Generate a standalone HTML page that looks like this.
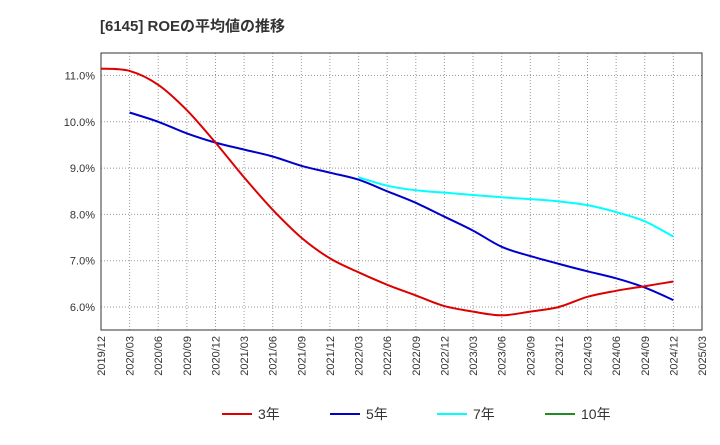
<!DOCTYPE html>
<html><head><meta charset="utf-8"><style>
body{margin:0;background:#fff;font-family:"Liberation Sans","Noto Sans CJK JP",sans-serif;}
</style></head><body>
<svg width="720" height="440" xmlns="http://www.w3.org/2000/svg">
<text x="100" y="31" font-size="15" font-weight="bold" fill="#333" font-family="Liberation Sans, Noto Sans CJK JP, sans-serif">[6145]  ROEの平均値の推移</text>
<g id="grid"></g>
<rect x="101" y="53" width="601" height="277" fill="none" stroke="#333" stroke-width="1"/>
<g id="axes"></g>
<g id="series"></g>
<g id="legend"></g>
</svg>
<script>
const xLabels=["2019/12","2020/03","2020/06","2020/09","2020/12","2021/03","2021/06","2021/09","2021/12","2022/03","2022/06","2022/09","2022/12","2023/03","2023/06","2023/09","2023/12","2024/03","2024/06","2024/09","2024/12","2025/03"];
const yTicks=[6,7,8,9,10,11];
const s3=[11.15,11.1,10.8,10.25,9.55,8.8,8.1,7.5,7.05,6.75,6.48,6.25,6.02,5.9,5.82,5.9,6.0,6.22,6.35,6.45,6.55];
const s5=[null,10.2,10.0,9.75,9.55,9.4,9.25,9.05,8.9,8.75,8.5,8.25,7.95,7.65,7.3,7.1,6.93,6.77,6.62,6.42,6.15];
const s7=[null,null,null,null,null,null,null,null,null,8.8,8.62,8.52,8.47,8.42,8.37,8.33,8.28,8.2,8.05,7.85,7.52];
const s10=[];
const NS="http://www.w3.org/2000/svg";
const X=i=>101+i*(601/21);
const Y=v=>307-(v-6)*46.3;
function mk(t,a,p){const e=document.createElementNS(NS,t);for(const k in a)e.setAttribute(k,a[k]);p.appendChild(e);return e;}
const grid=document.getElementById('grid'),axes=document.getElementById('axes'),ser=document.getElementById('series'),leg=document.getElementById('legend');
yTicks.forEach(v=>{
 const l=mk('line',{x1:101,x2:702,y1:Y(v),y2:Y(v),stroke:'#999','stroke-dasharray':'1,2'},grid);
 
 
 const t=mk('text',{x:95,y:Y(v)+4,'text-anchor':'end','font-size':11,fill:'#333'},axes);t.textContent=v.toFixed(1)+'%';
 
 
});
xLabels.forEach((s,i)=>{
 if(i>0&&i<21){const l=mk('line',{x1:X(i),x2:X(i),y1:53,y2:330,stroke:'#999','stroke-dasharray':'1,2'},grid);
 
 }
 const t=mk('text',{transform:`translate(${X(i)+4},336) rotate(-90)`,'text-anchor':'end','font-size':11,fill:'#333'},axes);t.textContent=s;
 
 
});
function line(d,c,n){
 const pts=[];d.forEach((v,i)=>{if(v!=null)pts.push([X(i),Y(v)]);});
 if(pts.length<2)return;
 let p='M'+pts[0][0].toFixed(1)+','+pts[0][1].toFixed(1);
 for(let i=0;i<pts.length-1;i++){
  const p0=pts[Math.max(0,i-1)],p1=pts[i],p2=pts[i+1],p3=pts[Math.min(pts.length-1,i+2)];
  const c1=[p1[0]+(p2[0]-p0[0])/6,p1[1]+(p2[1]-p0[1])/6],c2=[p2[0]-(p3[0]-p1[0])/6,p2[1]-(p3[1]-p1[1])/6];
  p+=`C${c1[0].toFixed(1)},${c1[1].toFixed(1)} ${c2[0].toFixed(1)},${c2[1].toFixed(1)} ${p2[0].toFixed(1)},${p2[1].toFixed(1)}`;
 }
 const e=mk('path',{d:p,fill:'none',stroke:c,'stroke-width':2,'stroke-linejoin':'round'},ser);
 
 
}
line(s7,'#00ffff','series-7yr');line(s5,'#0000cc','series-5yr');line(s3,'#dd0000','series-3yr');line(s10,'#228b22','series-10yr');
[['3年','#dd0000',222],['5年','#0000cc',330],['7年','#00ffff',437],['10年','#228b22',545]].forEach(([t,c,x])=>{
 const g=mk('g',{},leg);
 
 
 mk('line',{x1:x,x2:x+30,y1:414,y2:414,stroke:c,'stroke-width':2},g);
 const tx=mk('text',{x:x+36,y:419,'font-size':14,fill:'#333'},g);tx.textContent=t;
});
</script>
</body></html>
